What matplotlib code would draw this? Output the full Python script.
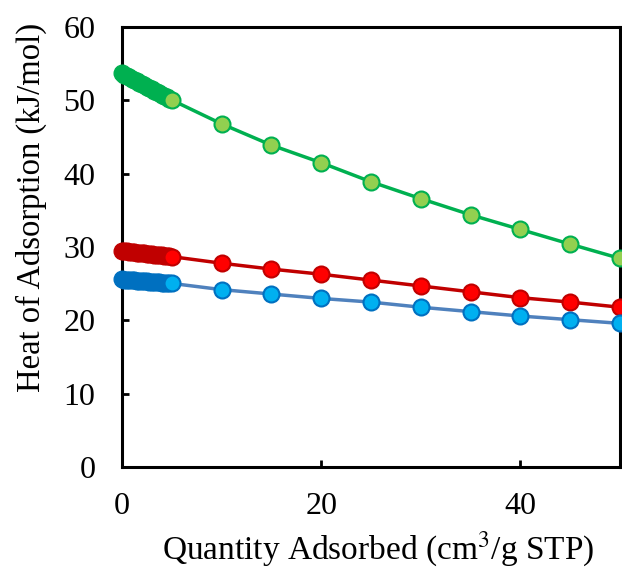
import matplotlib
matplotlib.use("Agg")
import matplotlib.pyplot as plt

plt.rcParams['font.family'] = ['Liberation Serif', 'DejaVu Serif']
plt.rcParams['mathtext.fontset'] = 'stix'

# dense low-loading points
dense_x = [0, 0.25, 0.5, 0.75, 1, 1.25, 1.5, 1.75, 2, 2.25, 2.5, 2.75,
           3, 3.25, 3.5, 3.75, 4, 4.25, 4.5, 4.75]
green_dense = [53.70, 53.51, 53.33, 53.14, 52.96, 52.77, 52.59, 52.41, 52.23, 52.05,
               51.87, 51.69, 51.51, 51.33, 51.15, 50.97, 50.79, 50.61, 50.43, 50.25]
red_dense = [29.50, 29.46, 29.42, 29.38, 29.34, 29.30, 29.26, 29.22, 29.18, 29.14,
             29.10, 29.06, 29.02, 28.98, 28.94, 28.90, 28.86, 28.82, 28.78, 28.74]
blue_dense = [25.60, 25.57, 25.55, 25.52, 25.49, 25.46, 25.44, 25.41, 25.38, 25.35,
              25.33, 25.30, 25.27, 25.24, 25.22, 25.19, 25.16, 25.13, 25.11, 25.08]

# sparse points
sparse_x = [5, 10, 15, 20, 25, 30, 35, 40, 45, 50]
green_sparse = [50.05, 46.8, 43.9, 41.5, 38.9, 36.6, 34.4, 32.4, 30.4, 28.45]
red_sparse = [28.7, 27.8, 27.0, 26.3, 25.5, 24.7, 23.9, 23.1, 22.5, 21.8]
blue_sparse = [25.05, 24.2, 23.6, 23.0, 22.5, 21.8, 21.2, 20.6, 20.1, 19.6]

xticks = [0, 20, 40]
yticks = [0, 10, 20, 30, 40, 50, 60]

fig = plt.figure(figsize=(6.22, 5.69), dpi=100)
ax = fig.add_axes([0.196, 0.179, 0.801, 0.7735])

series = [
    (green_dense, green_sparse, '#00B050', '#00B050', '#92D050', '#00B050'),
    (red_dense, red_sparse, '#C00000', '#C00000', '#FF0000', '#C00000'),
    (blue_dense, blue_sparse, '#4F81BD', '#0070C0', '#00B0F0', '#0070C0'),
]
for dense, sparse, lc, dc, fc, ec in series:
    ax.plot(dense_x + sparse_x, dense + sparse, color=lc, lw=2.5, zorder=2, clip_on=False)
    ax.plot(dense_x, dense, ls='none', marker='o', ms=12, mfc=dc, mec=dc, mew=1,
            zorder=3, clip_on=False)
    ax.plot(sparse_x, sparse, ls='none', marker='o', ms=11.5, mfc=fc, mec=ec, mew=1.5,
            zorder=4, clip_on=False)

ax.set_xlim(0, 50)
ax.set_ylim(0, 60)
ax.set_xticks(xticks)
ax.set_yticks(yticks)
for s in ax.spines.values():
    s.set_linewidth(2.2)
    s.set_zorder(2.5)
ax.tick_params(direction='in', length=5, width=2, labelsize=23)
ax.tick_params(axis='x', pad=18)
ax.tick_params(axis='y', pad=19)
ax.set_xlabel('Quantity Adsorbed (cm$^3$/g STP)', fontsize=24, labelpad=6)
ax.set_ylabel('Heat of Adsorption (kJ/mol)', fontsize=23.5, labelpad=12)
ax.xaxis.label.set_x(0.515)
ax.yaxis.label.set_y(0.59)

fig.savefig('out.png', dpi=100)
